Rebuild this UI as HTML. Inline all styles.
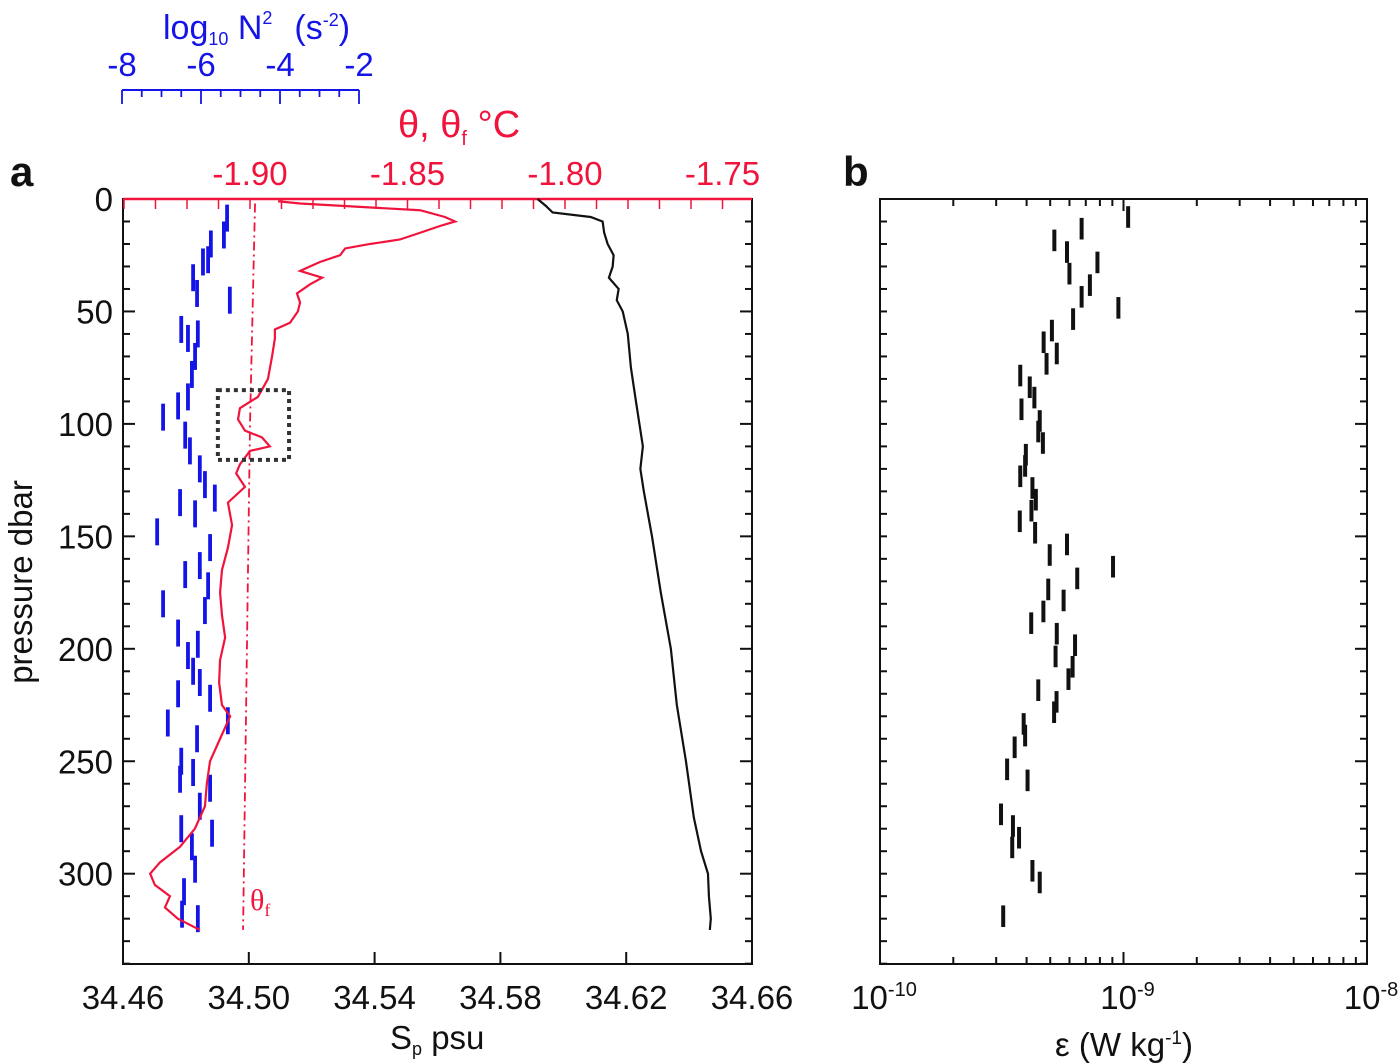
<!DOCTYPE html>
<html><head><meta charset="utf-8">
<style>
html,body{margin:0;padding:0;background:#fff;}
svg{display:block;font-family:"Liberation Sans",Arial,sans-serif;}
</style></head>
<body>
<svg id="fig" width="1400" height="1063" viewBox="0 0 1400 1063" xmlns="http://www.w3.org/2000/svg">
<g id="gA"></g>
<g id="gB"></g>
</svg>
<script>
// ---------- data ----------
const salTicks = [34.46, 34.50, 34.54, 34.58, 34.62, 34.66];
const thetaTicks = [-1.90, -1.85, -1.80, -1.75];
const n2Ticks = [-8, -6, -4, -2];
const presTicks = [0, 50, 100, 150, 200, 250, 300];
const epsTickExp = [-10, -9, -8];

const salP = [0,3,6,8,10,15,20,25,30,35,40,45,50,60,75,90,110,120,130,150,175,200,225,250,275,290,300,310,320,325];
const salV = [34.5918,34.5944,34.5966,34.6087,34.6125,34.6130,34.6141,34.6160,34.6157,34.6145,34.6176,34.6170,34.6189,34.6205,34.6215,34.6231,34.6253,34.6245,34.6256,34.6282,34.6310,34.6342,34.6361,34.6390,34.6415,34.6438,34.6460,34.6463,34.6469,34.6466];

const thP = [1,2,3,5,8,10,12,15,18,20,22,25,28,30,32,35,38,42,46,50,55,58,62,70,80,88,93,98,103,106,110,112,118,122,128,135,145,155,165,175,185,195,205,215,225,230,240,250,260,270,280,288,295,300,305,310,315,320,325];
const thV = [-1.8911,-1.8841,-1.8714,-1.8460,-1.8381,-1.8349,-1.8397,-1.8460,-1.8524,-1.8619,-1.8698,-1.8714,-1.8778,-1.8810,-1.8841,-1.8771,-1.8810,-1.8851,-1.8841,-1.8848,-1.8873,-1.8921,-1.8921,-1.8930,-1.8943,-1.8975,-1.9032,-1.9038,-1.9016,-1.8962,-1.8937,-1.9000,-1.9032,-1.9044,-1.9016,-1.9070,-1.9057,-1.9070,-1.9089,-1.9095,-1.9089,-1.9079,-1.9095,-1.9098,-1.9089,-1.9063,-1.9095,-1.9127,-1.9137,-1.9143,-1.9175,-1.9222,-1.9286,-1.9317,-1.9302,-1.9254,-1.9270,-1.9229,-1.9159];

const thfP = [2, 100, 325];
const thfV = [-1.8984, -1.9000, -1.9022];

const boxP = [85, 116];
const boxTh = [-1.9102, -1.8876];

const n2P = [8.5,16,20,27,28,35,42,45,58,62,60,70,78,92,97,88,105,112,120,127,133,135,148,140,155,163,167,172,180,183,193,203,198,210,215,220,222,233,232,240,250,258,255,262,270,280,288,282,298,308,318,320];
const n2V = [-5.34,-5.42,-5.75,-5.82,-5.95,-6.2,-6.1,-5.27,-6.5,-6.33,-6.08,-6.15,-6.23,-6.58,-6.96,-6.33,-6.4,-6.28,-6.03,-5.9,-5.65,-6.53,-7.11,-6.15,-5.77,-6.03,-6.4,-5.82,-6.96,-5.9,-6.58,-6.33,-6.08,-6.2,-6.03,-6.58,-5.77,-6.84,-5.32,-6.1,-6.5,-6.53,-6.2,-5.77,-6.03,-6.5,-6.23,-5.72,-6.15,-6.43,-6.48,-6.08];

const epsP = [8,13.2,18.4,23.6,28.2,33.2,38.3,43.5,48.4,53.4,58.5,63.7,68.7,73.3,78.5,83.7,88.3,93.5,98.7,103.4,108.5,113.7,118.7,123.3,128.5,133.7,138.6,143.3,148.4,153.6,158.3,163.5,168.7,173.6,178.5,183.4,188.6,193.3,198.4,203.4,208,213.5,218.4,223.6,228.2,233.4,238.6,243.8,253.6,258.5,273.6,278.8,284,288.3,298.7,303.9,318.9];
const epsLog = [-8.981,-9.172,-9.284,-9.232,-9.107,-9.222,-9.138,-9.172,-9.021,-9.207,-9.294,-9.328,-9.274,-9.316,-9.424,-9.385,-9.366,-9.419,-9.344,-9.35,-9.331,-9.401,-9.404,-9.424,-9.374,-9.36,-9.378,-9.426,-9.363,-9.232,-9.303,-9.043,-9.19,-9.309,-9.246,-9.329,-9.379,-9.274,-9.199,-9.279,-9.209,-9.226,-9.35,-9.275,-9.285,-9.41,-9.404,-9.447,-9.478,-9.394,-9.503,-9.454,-9.429,-9.457,-9.374,-9.344,-9.494];

// ---------- axes ----------
const A = {x0:123, x1:752, y0:199, y1:964};
const B = {x0:880, x1:1367, y0:199, y1:964};
const yP = p => 199 + p*2.249;
const xS = s => 123 + (s-34.46)*(629/0.2);
const xT = t => 250 + (t+1.90)*3150;
const xN = v => 122 + (v+8)*39.5;
const xE = l => 880 + (l+10)*(487/2);

const NS="http://www.w3.org/2000/svg";
function mk(parent, tag, attrs, text){
  const e=document.createElementNS(NS,tag);
  for(const k in attrs) e.setAttribute(k, attrs[k]);
  if(text!==undefined) e.textContent=text;
  parent.appendChild(e); return e;
}
const gA=document.getElementById('gA'), gB=document.getElementById('gB');

// ---- Panel A frame ----
let fr=mk(gA,'rect',{x:A.x0,y:A.y0,width:A.x1-A.x0,height:A.y1-A.y0,fill:'none',stroke:'#111','stroke-width':2});


for(let p=0;p<=340;p+=10){
  const y=yP(p); const len=(p%50===0)?12:7;
  let t=mk(gA,'line',{x1:A.x0,y1:y,x2:A.x0+len,y2:y,stroke:'#111','stroke-width':2});
  
  
  let t2=mk(gA,'line',{x1:A.x1-len,y1:y,x2:A.x1,y2:y,stroke:'#111','stroke-width':2});
  
  
}
presTicks.forEach(p=>{
  let l=mk(gA,'text',{x:A.x0-10,y:yP(p)+12,'text-anchor':'end','font-size':33,fill:'#111'},String(p));
  
  
});
salTicks.forEach(s=>{
  const x=xS(s);
  let t=mk(gA,'line',{x1:x,y1:A.y1,x2:x,y2:A.y1-12,stroke:'#111','stroke-width':2});
  
  
  let l=mk(gA,'text',{x:x,y:1009,'text-anchor':'middle','font-size':33,fill:'#111'},s.toFixed(2));
  
  
});
let ta=mk(gA,'line',{x1:A.x0,y1:A.y0,x2:A.x1,y2:A.y0,stroke:'#f0143c','stroke-width':2.5});


for(let i=-194;i<=-174;i++){
  const x=xT(i/100); if(x<A.x0||x>A.x1) continue;
  let t=mk(gA,'line',{x1:x,y1:A.y0,x2:x,y2:A.y0+10,stroke:'#f0143c','stroke-width':1.5});
  
  
}
thetaTicks.forEach(t=>{
  let l=mk(gA,'text',{x:xT(t),y:185,'text-anchor':'middle','font-size':33,fill:'#f0143c'},t.toFixed(2));
  
  
});
let tt=mk(gA,'text',{x:398,y:137,'font-size':38,fill:'#f0143c'});


tt.innerHTML='θ, θ<tspan font-size="20" dy="8">f</tspan><tspan dy="-8"> °C</tspan>';
let na=mk(gA,'line',{x1:xN(-8),y1:90,x2:xN(-2),y2:90,stroke:'#1414e6','stroke-width':2});


for(let i=-80;i<=-20;i+=5){
  const v=i/10, big=(i%20===0);
  let t=mk(gA,'line',{x1:xN(v),y1:90,x2:xN(v),y2:big?104:97,stroke:'#1414e6','stroke-width':1.8});
  
  
}
n2Ticks.forEach(v=>{
  let l=mk(gA,'text',{x:xN(v),y:76,'text-anchor':'middle','font-size':33,fill:'#1414e6'},String(v));
  
  
});
let nt=mk(gA,'text',{x:163,y:39,'font-size':34,fill:'#1414e6','xml:space':'preserve'});


nt.innerHTML='log<tspan font-size="18" dy="6">10</tspan><tspan dy="-6"> N</tspan><tspan font-size="18" dy="-15">2</tspan><tspan dy="15" dx="22">(s</tspan><tspan font-size="18" dy="-13">-2</tspan><tspan dy="13">)</tspan>';
let yt=mk(gA,'text',{x:0,y:0,'font-size':33,fill:'#111','text-anchor':'middle',transform:'translate(32,582) rotate(-90)'},'pressure dbar');


let xt=mk(gA,'text',{x:390,y:1049,'font-size':33,fill:'#111'});


xt.innerHTML='S<tspan font-size="18" dy="6">p</tspan><tspan dy="-6"> psu</tspan>';
let la=mk(gA,'text',{x:10,y:186,'font-size':42,'font-weight':'bold',fill:'#111'},'a');



n2P.forEach((p,i)=>{
  const x=xN(n2V[i]);
  let b=mk(gA,'line',{x1:x,y1:yP(p-6),x2:x,y2:yP(p+6),stroke:'#1414e6','stroke-width':3.8});
  
  
});
let fpts=thfP.map((p,i)=>xT(thfV[i])+','+yP(p)).join(' ');
let tf=mk(gA,'polyline',{points:fpts,fill:'none',stroke:'#f0143c','stroke-width':1.8,'stroke-dasharray':'9 4 2 4'});


let tfl=mk(gA,'text',{x:250,y:910,'font-size':30,fill:'#f0143c','font-family':'Liberation Serif, serif'});


tfl.innerHTML='θ<tspan font-size="18" dy="6">f</tspan>';
let tpts=thP.map((p,i)=>xT(thV[i])+','+yP(p)).join(' ');
let tl=mk(gA,'polyline',{points:tpts,fill:'none',stroke:'#f0143c','stroke-width':2.2});


let spts=salP.map((p,i)=>xS(salV[i])+','+yP(p)).join(' ');
let sl=mk(gA,'polyline',{points:spts,fill:'none',stroke:'#111','stroke-width':2.2});


let bx=mk(gA,'rect',{x:xT(boxTh[0]),y:yP(boxP[0]),width:xT(boxTh[1])-xT(boxTh[0]),height:yP(boxP[1])-yP(boxP[0]),fill:'none',stroke:'#333','stroke-width':4,'stroke-dasharray':'4 4'});



// ---- Panel B ----
let fb=mk(gB,'rect',{x:B.x0,y:B.y0,width:B.x1-B.x0,height:B.y1-B.y0,fill:'none',stroke:'#111','stroke-width':2});


for(let p=0;p<=340;p+=10){
  const y=yP(p); const len=(p%50===0)?12:7;
  let t=mk(gB,'line',{x1:B.x0,y1:y,x2:B.x0+7,y2:y,stroke:'#111','stroke-width':2});
  
  
  let t2=mk(gB,'line',{x1:B.x1-len,y1:y,x2:B.x1,y2:y,stroke:'#111','stroke-width':2});
  
  
}
for(let d=-10; d<-8; d++){
  for(let m=1;m<=9;m++){
    const x=xE(d+Math.log10(m)); const len=(m===1)?12:7;
    let t=mk(gB,'line',{x1:x,y1:B.y1,x2:x,y2:B.y1-len,stroke:'#111','stroke-width':2});
    
    
    let t2=mk(gB,'line',{x1:x,y1:B.y0,x2:x,y2:B.y0+len,stroke:'#111','stroke-width':2});
    
    
  }
}
epsTickExp.forEach(e=>{
  let l=mk(gB,'text',{x:xE(e)+4,y:1009,'text-anchor':'middle','font-size':33,fill:'#111'});
  
  
  l.innerHTML='10<tspan font-size="20" dy="-13">'+e+'</tspan>';
});
let et=mk(gB,'text',{x:1124,y:1056,'text-anchor':'middle','font-size':33,fill:'#111'});


et.innerHTML='ε (W kg<tspan font-size="19" dy="-12">-1</tspan><tspan dy="12">)</tspan>';
let lb=mk(gB,'text',{x:843,y:186,'font-size':42,'font-weight':'bold',fill:'#111'},'b');


epsP.forEach((p,i)=>{
  const x=xE(epsLog[i]);
  let b=mk(gB,'line',{x1:x,y1:yP(p-4.8),x2:x,y2:yP(p+4.8),stroke:'#111','stroke-width':4});
  
  
});
</script>
</body></html>
